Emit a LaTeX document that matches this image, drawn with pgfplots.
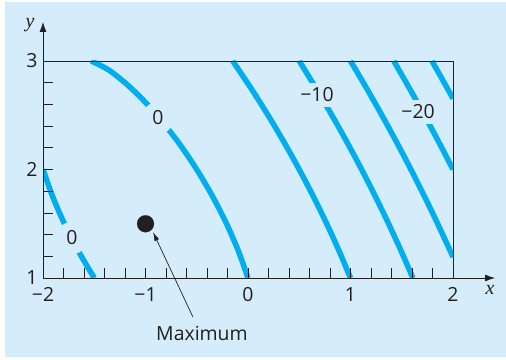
\documentclass[border=0pt]{standalone}
\usepackage{pgfplots}
\pgfplotsset{compat=1.18}
\usetikzlibrary{arrows.meta}
\usepackage{fontspec}
\setmainfont{Open Sans}
\newfontfamily\serifit{Liberation Serif}
\definecolor{bg}{HTML}{D5EDFA}
\definecolor{cline}{HTML}{00AEEF}
\definecolor{ink}{HTML}{231F20}
\begin{document}
\begin{tikzpicture}[x=1bp,y=1bp]
\fill[white] (0,0) rectangle (506,359);
\fill[bg] (5,2) rectangle (506,357);
\begin{axis}[
  at={(43bp,81bp)}, anchor=south west,
  scale only axis, width=410bp, height=217bp,
  xmin=-2, xmax=2, ymin=1, ymax=3,
  xtick={-2,-1,0,1,2}, xticklabels={−2,−1,0,1,2},
  ytick={1,2,3}, yticklabels={1,2,3},
  minor x tick num=4, minor y tick num=4,
  tick align=inside, tick pos=left,
  major tick length=10bp, minor tick length=10bp,
  tick style={ink, line width=0.8bp},
  axis line style={ink, line width=0.8bp},
  axis on top,
  xticklabel style={font=\fontsize{19.5}{22}\selectfont, text=ink, yshift=-6bp},
  yticklabel style={font=\fontsize{19.5}{22}\selectfont, text=ink, xshift=-2bp},
  every axis plot/.append style={line width=5.5bp, cline},
]
\addplot[smooth] coordinates {(0,1) (-0.0944,1.25) (-0.2094,1.5) (-0.3444,1.75) (-0.5,2) (-0.6790,2.25) (-0.8876,2.5) (-0.9821,2.6) (-1.0852,2.7) (-1.2,2.8) (-1.3326,2.9) (-1.42,2.95) (-1.53,3)};
\addplot[smooth] coordinates {(-1.5,1) (-1.6556,1.25) (-1.7906,1.5) (-1.9056,1.75) (-2,2)};
\addplot[smooth] coordinates {(1,1) (0.8884,1.25) (0.7678,1.5) (0.6384,1.75) (0.5,2) (0.3525,2.25) (0.1956,2.5) (0.0286,2.75) (-0.1492,3)};
\addplot[smooth] coordinates {(1.6085,1) (1.4934,1.25) (1.3717,1.5) (1.2434,1.75) (1.1085,2) (0.9669,2.25) (0.8184,2.5) (0.6629,2.75) (0.5,3)};
\addplot[smooth] coordinates {(2,1.1926) (1.9727,1.25) (1.8504,1.5) (1.7227,1.75) (1.5895,2) (1.4507,2.25) (1.3062,2.5) (1.1561,2.75) (1,3)};
\addplot[smooth] coordinates {(2,2) (1.8630,2.25) (1.7210,2.5) (1.5741,2.75) (1.4222,3)};
\addplot[smooth] coordinates {(2,2.6533) (1.9728,2.7) (1.9435,2.75) (1.8844,2.85) (1.7944,3)};
\addplot[only marks, mark=*, mark size=8.5bp, mark options={fill=ink, draw=ink, line width=0.1bp}] coordinates {(-1,1.5)};
\node[circle, fill=bg, inner sep=5bp, font=\fontsize{19.5}{22}\selectfont, text=ink] at (axis cs:-0.878,2.475) {0};
\node[circle, fill=bg, inner sep=5bp, font=\fontsize{19.5}{22}\selectfont, text=ink] at (axis cs:-1.717,1.369) {0};
\node[fill=bg, inner sep=5bp, font=\fontsize{19.5}{22}\selectfont, text=ink] at (axis cs:0.673,2.687) {−10};
\node[fill=bg, inner sep=5bp, font=\fontsize{19.5}{22}\selectfont, text=ink] at (axis cs:1.659,2.53) {−20};
\coordinate (xend) at (axis cs:2,1);
\coordinate (xarr) at (axis cs:2.41,1);
\coordinate (yend) at (axis cs:-2,3);
\coordinate (yarr) at (axis cs:-2,3.36);
\coordinate (xlab) at (axis cs:2.361,0.889);
\coordinate (ylab) at (axis cs:-2.127,3.332);
\coordinate (mtip) at (axis cs:-0.927,1.424);
\coordinate (mtail) at (axis cs:-0.537,0.64);
\coordinate (mtext) at (axis cs:-0.449,0.493);
\end{axis}
\draw[ink, line width=0.8bp, -{Latex[length=10bp,width=7bp]}] (xend) -- (xarr);
\draw[ink, line width=0.8bp, -{Latex[length=10bp,width=7bp]}] (yend) -- (yarr);
\node[font=\serifit\itshape\fontsize{20}{23}\selectfont, text=ink] at (xlab) {x};
\node[font=\serifit\itshape\fontsize{20}{23}\selectfont, text=ink] at (ylab) {y};
\draw[ink, line width=0.7bp, -{Latex[length=9bp,width=5bp]}] (mtail) -- (mtip);
\node[font=\fontsize{19.5}{22}\selectfont, text=ink] at (mtext) {Maximum};
\end{tikzpicture}
\end{document}
